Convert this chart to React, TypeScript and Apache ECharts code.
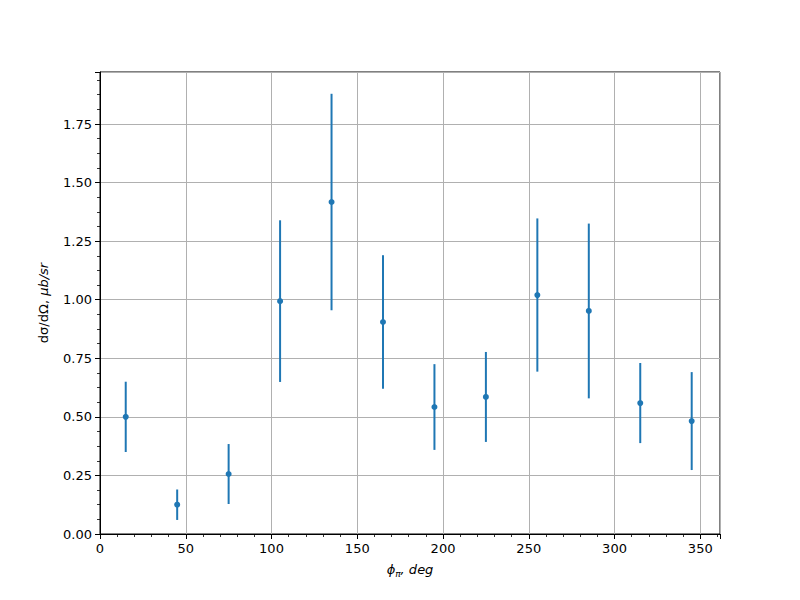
import React, { useEffect, useRef } from "react";
import * as echarts from "echarts";

const phi = [15, 45, 75, 105, 135, 165, 195, 225, 255, 285, 315, 345];
const sigma = [0.5, 0.125, 0.256, 0.994, 1.417, 0.905, 0.542, 0.585, 1.02, 0.952, 0.559, 0.482];
const errors = [0.15, 0.065, 0.128, 0.345, 0.462, 0.285, 0.183, 0.192, 0.327, 0.373, 0.171, 0.209];
const yTickLabels = ["0.00", "0.25", "0.50", "0.75", "1.00", "1.25", "1.50", "1.75"];

const BLUE = "#1f77b4";
const FONT = "DejaVu Sans";

export default function App() {
  const ref = useRef<HTMLDivElement>(null);
  useEffect(() => {
    if (!ref.current) return;
    const chart = echarts.init(ref.current, undefined, { renderer: "svg" });
    const points = phi.map((x, i) => [x, sigma[i]]);
    const bars = phi.map((x, i) => [x, sigma[i] - errors[i], sigma[i] + errors[i]]);
    chart.setOption({
      animation: false,
      backgroundColor: "#ffffff",
      grid: {
        left: 100,
        right: 80,
        top: 72,
        bottom: 66,
        show: true,
        borderColor: "#000000",
        borderWidth: 1,
        backgroundColor: "transparent",
      },
      xAxis: {
        type: "value",
        min: 0,
        max: 361.5,
        interval: 50,
        name: "{i|ϕ}{s|π}{i|, deg}",
        nameLocation: "middle",
        nameGap: 27,
        nameTextStyle: {
          rich: {
            i: { fontFamily: FONT, fontStyle: "italic", fontSize: 13, color: "#000" },
            s: { fontFamily: FONT, fontStyle: "italic", fontSize: 9, color: "#000", padding: [8, 0, 0, 0] },
          },
        },
        axisLine: { show: true, onZero: false, lineStyle: { color: "#000", width: 1 } },
        axisTick: { show: true, inside: false, length: 5, lineStyle: { color: "#000", width: 1 } },
        minorTick: { show: true, splitNumber: 5, length: 3, lineStyle: { color: "#000", width: 0.8 } },
        axisLabel: {
          fontFamily: FONT,
          fontSize: 13,
          color: "#000",
          margin: 8,
          showMaxLabel: false,
          formatter: (v: number) => (v > 355 ? "" : String(v)),
        },
        splitLine: { show: true, lineStyle: { color: "#b0b0b0", width: 1 } },
      },
      yAxis: {
        type: "value",
        min: 0,
        max: 1.972,
        interval: 0.25,
        name: "{n|dσ/dΩ, }{i|μb/sr}",
        nameLocation: "middle",
        nameGap: 50,
        nameRotate: 90,
        nameTextStyle: {
          rich: {
            n: { fontFamily: FONT, fontSize: 13, color: "#000" },
            i: { fontFamily: FONT, fontStyle: "italic", fontSize: 13, color: "#000" },
          },
        },
        axisLine: { show: true, onZero: false, lineStyle: { color: "#000", width: 1 } },
        axisTick: { show: true, inside: false, length: 5, lineStyle: { color: "#000", width: 1 } },
        minorTick: { show: true, splitNumber: 4, length: 3, lineStyle: { color: "#000", width: 0.8 } },
        axisLabel: {
          fontFamily: FONT,
          fontSize: 13,
          color: "#000",
          margin: 8,
          showMaxLabel: false,
          formatter: (v: number) => {
            const idx = Math.round(v / 0.25);
            return v > 1.9 ? "" : yTickLabels[idx] ?? v.toFixed(2);
          },
        },
        splitLine: { show: true, lineStyle: { color: "#b0b0b0", width: 1 } },
      },
      series: [
        {
          type: "custom",
          data: bars,
          z: 3,
          renderItem: (params: any, api: any) => {
            const x = api.value(0);
            const lo = api.coord([x, api.value(1)]);
            const hi = api.coord([x, api.value(2)]);
            return {
              type: "line",
              shape: { x1: lo[0], y1: lo[1], x2: hi[0], y2: hi[1] },
              style: { stroke: BLUE, lineWidth: 2 },
            };
          },
        },
        {
          type: "scatter",
          data: points,
          symbol: "circle",
          symbolSize: 6,
          z: 4,
          itemStyle: { color: BLUE, opacity: 1 },
        },
      ],
    });
    return () => chart.dispose();
  }, []);
  return <div ref={ref} style={{ width: 800, height: 600, margin: -8 }} />;
}
